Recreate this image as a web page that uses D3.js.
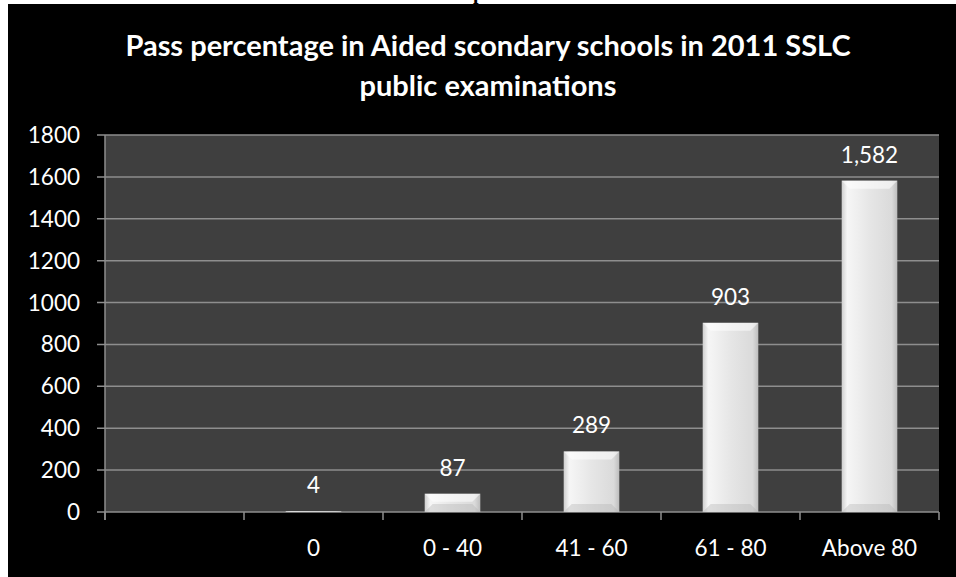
<!DOCTYPE html>
<html lang="en">
<head>
<meta charset="utf-8">
<title>Pass percentage</title>
<script src="https://d3js.org/d3.v7.min.js"></script>
<style>
  body { margin: 0; background: #fff; }
  text { font-family: Lato, "Open Sans", sans-serif; fill: #fff; }
</style>
</head>
<body>
<div id="chart"></div>
<script>
var categories = ["", "0", "0 - 40", "41 - 60", "61 - 80", "Above 80"];
var values = [null, 4, 87, 289, 903, 1582];
var yTicks = [0, 200, 400, 600, 800, 1000, 1200, 1400, 1600, 1800];
var titleLines = ["Pass percentage in Aided scondary schools in 2011 SSLC", "public examinations"];

var w = 956, h = 577;
var plotL = 105, plotR = 939, plotT = 135, plotB = 512;

var svg = d3.select("#chart").append("svg")
  .attr("width", w).attr("height", h);

// black frame
svg.append("rect").attr("x", 8).attr("y", 4).attr("width", w - 8).attr("height", h - 4).attr("fill", "#000");
// clipped heading letter above the chart
svg.append("text").attr("x", 473).attr("y", -1)
  .style("font-family", "'Liberation Serif', serif").style("font-weight", "bold")
  .style("font-size", "20px").style("fill", "#000").text("p");

var defs = svg.append("defs");
var gH = defs.append("linearGradient").attr("id", "barH").attr("x1", 0).attr("x2", 1).attr("y1", 0).attr("y2", 0);
gH.append("stop").attr("offset", "0%").attr("stop-color", "#cfcfcf");
gH.append("stop").attr("offset", "10%").attr("stop-color", "#f6f6f6");
gH.append("stop").attr("offset", "50%").attr("stop-color", "#e6e6e6");
gH.append("stop").attr("offset", "90%").attr("stop-color", "#dadada");
gH.append("stop").attr("offset", "100%").attr("stop-color", "#bdbdbd");

var x = d3.scaleBand().domain(categories.map(function(d, i){ return i; }))
  .range([plotL, plotR]).paddingInner(0.6).paddingOuter(0.3);
var xb = d3.scaleBand().domain(categories.map(function(d, i){ return i; })).range([plotL, plotR]);
var y = d3.scaleLinear().domain([0, 1800]).range([plotB, plotT]);

// plot area
svg.append("rect").attr("x", plotL).attr("y", plotT).attr("width", plotR - plotL).attr("height", plotB - plotT)
  .attr("fill", "#3f3f3f");

// gridlines
svg.selectAll(".grid").data(yTicks).enter().append("line")
  .attr("x1", plotL - 8).attr("x2", plotR)
  .attr("y1", function(d){ return y(d); }).attr("y2", function(d){ return y(d); })
  .attr("stroke", "#8e8e8e").attr("stroke-width", 1.5);

// y axis line
svg.append("line").attr("x1", plotL).attr("x2", plotL).attr("y1", plotT).attr("y2", plotB + 8)
  .attr("stroke", "#8e8e8e").attr("stroke-width", 1.5);

// x ticks on band boundaries
var bounds = categories.map(function(d, i){ return xb(i); }).concat([plotR]);
svg.selectAll(".xt").data(bounds).enter().append("line")
  .attr("x1", function(d){ return d; }).attr("x2", function(d){ return d; })
  .attr("y1", plotB).attr("y2", plotB + 8)
  .attr("stroke", "#8e8e8e").attr("stroke-width", 1.5);

// y labels
svg.selectAll(".yl").data(yTicks).enter().append("text")
  .attr("x", 80).attr("y", function(d){ return y(d) + 8; })
  .attr("text-anchor", "end").style("font-size", "22.5px")
  .text(function(d){ return d; });

// x labels
svg.selectAll(".xl").data(categories).enter().append("text")
  .attr("x", function(d, i){ return xb(i) + xb.bandwidth() / 2; }).attr("y", 556)
  .attr("text-anchor", "middle").style("font-size", "22.5px")
  .text(function(d){ return d; });

// bars
var data = values.map(function(v, i){ return {i: i, v: v}; }).filter(function(d){ return d.v !== null; });
var bars = svg.selectAll(".bar").data(data).enter().append("g");
bars.append("rect")
  .attr("x", function(d){ return x(d.i); }).attr("width", x.bandwidth())
  .attr("y", function(d){ return y(d.v); }).attr("height", function(d){ return plotB - y(d.v); })
  .attr("fill", "url(#barH)");
// soft bevel: top lighter, bottom slightly darker
bars.append("polygon").attr("points", function(d){
    var x0 = x(d.i), x1 = x0 + x.bandwidth(), t = y(d.v), b = plotB - t;
    var bv = Math.min(8, b / 2);
    return [[x0, t], [x1, t], [x1 - bv, t + bv], [x0 + bv, t + bv]].join(" ");
  }).attr("fill", "#ffffff").attr("opacity", 0.55);
bars.append("polygon").attr("points", function(d){
    var x0 = x(d.i), x1 = x0 + x.bandwidth(), t = y(d.v), b = plotB - t;
    var bv = Math.min(8, b / 2);
    return [[x0, plotB], [x1, plotB], [x1 - bv, plotB - bv], [x0 + bv, plotB - bv]].join(" ");
  }).attr("fill", "#b0b0b0").attr("opacity", 0.35);

// value labels
svg.selectAll(".vl").data(data).enter().append("text")
  .attr("x", function(d){ return x(d.i) + x.bandwidth() / 2; })
  .attr("y", function(d){ return y(d.v) - 18; })
  .attr("text-anchor", "middle").style("font-size", "22.5px")
  .text(function(d){ return d3.format(",")(d.v); });

// title
svg.selectAll(".title").data(titleLines).enter().append("text")
  .attr("x", 488).attr("y", function(d, i){ return 56 + i * 40; })
  .attr("text-anchor", "middle").style("font-size", "29px").style("font-weight", "bold")
  .text(function(d){ return d; });
</script>
</body>
</html>
